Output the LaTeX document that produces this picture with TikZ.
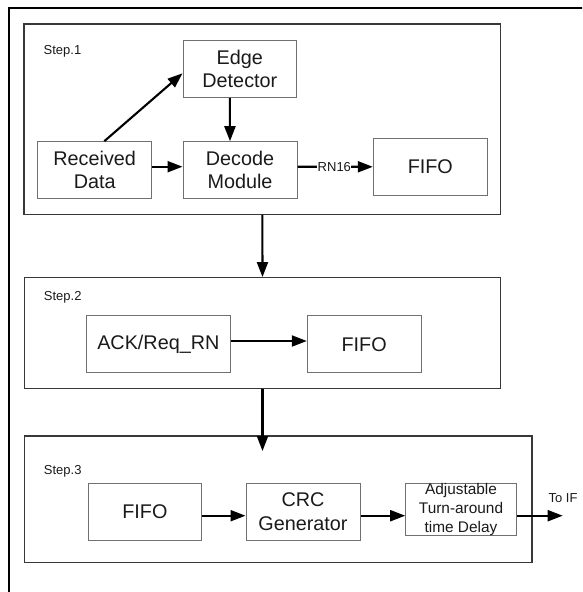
\documentclass[tikz,border=0pt]{standalone}
\usepackage{fontspec}
\setmainfont{Liberation Sans}
\usetikzlibrary{arrows.meta}
\definecolor{boxline}{HTML}{707070}
\definecolor{stepline}{HTML}{383838}
\definecolor{ink}{HTML}{1A1A1A}
\begin{document}
\begin{tikzpicture}[x=1pt,y=-1pt,
  blk/.style={draw=boxline,line width=1pt,inner sep=0pt,align=center,text=ink,
    font=\fontsize{19.8}{23.4}\selectfont},
  stagebox/.style={draw=stepline,line width=1.3pt,inner sep=0pt},
  steplabel/.style={anchor=west,inner sep=0pt,text=ink,font=\fontsize{13}{15}\selectfont},
  arr/.style={line width=2.1pt,-{Triangle[length=15pt,width=11pt]}},
]
\useasboundingbox (0,0) rectangle (582,592);
\begin{scope}
  \clip (0,0) rectangle (582,592);
  % outer frame (runs past the page edges)
  \draw[line width=2.6pt] (9,620) -- (9,8) -- (620,8);
\end{scope}

% stage containers
\node[stagebox,minimum width=476.7pt,minimum height=190.3pt] (step1) at (262.35,119.15) {};
\node[stagebox,minimum width=475.6pt,minimum height=110.6pt] (step2) at (262.5,333) {};
\node[stagebox,minimum width=507.3pt,minimum height=126.7pt] (step3) at (278.35,499.35) {};

\node[steplabel] (lab1) at (43.5,51.7) {Step.1};
\node[steplabel] (lab2) at (43.7,297.7) {Step.2};
\node[steplabel] (lab3) at (43.7,471.7) {Step.3};

% step 1
\node[blk,minimum width=113.7pt,minimum height=57.3pt] (edge) at (239.85,68.65) {Edge\\Detector};
\node[blk,minimum width=114pt,minimum height=56.6pt] (recv) at (94.7,170) {Received\\Data};
\node[blk,minimum width=114pt,minimum height=56.6pt] (dec) at (240,170) {Decode\\Module};
\node[blk,minimum width=114pt,minimum height=57pt] (fifoa) at (430.3,166.8) {FIFO};

\draw[arr] ([xshift=9.6pt]recv.north) -- ([yshift=-4.65pt]edge.west);
\draw[arr] ([xshift=-10pt]edge.south) -- ([xshift=-10pt]dec.north);
\draw[arr] ([yshift=3.3pt]recv.east) -- ([yshift=3.3pt]dec.west);
\draw[arr] ([yshift=3.3pt]dec.east) -- node[midway,fill=white,inner sep=0.5pt,text=ink,
  font=\fontsize{13}{15}\selectfont,xshift=-0.8pt] (rn) {RN16} (fifoa.west);

% step 2
\node[blk,minimum width=144.7pt,minimum height=57pt] (ack) at (158.35,344.2) {ACK/Req\_RN};
\node[blk,minimum width=113.7pt,minimum height=57pt] (fifob) at (364.15,344.2) {FIFO};
\draw[arr] ([yshift=3.2pt]ack.east) -- ([yshift=3.2pt]fifob.west);

\draw[arr] (step1.south) -- (step2.north);
\coordinate (s3in) at (262.5,451);
\draw[arr] (step2.south) -- (s3in);

% step 3
\node[blk,minimum width=113.7pt,minimum height=57pt] (fifoc) at (144.85,511.8) {FIFO};
\node[blk,minimum width=114pt,minimum height=57pt] (crc) at (303,511.8) {CRC\\Generator};
\node[blk,minimum width=110.6pt,minimum height=52.4pt,
  font=\fontsize{15.4}{18.8}\selectfont] (delay) at (461,509.5)
  {Adjustable\\Turn-around\\time Delay};
\draw[arr] ([yshift=-3.9pt]fifoc.east) -- ([yshift=-3.9pt]crc.west);
\draw[arr] ([yshift=-3.9pt]crc.east) -- ([yshift=-6.2pt]delay.west);
\coordinate (toif) at (562.7,515.7);
\draw[arr] ([yshift=-6.2pt]delay.east) -- (toif);
\node[inner sep=0pt,text=ink,font=\fontsize{13}{15}\selectfont] (toiflab) at (563,498.3) {To IF};
\end{tikzpicture}
\end{document}
